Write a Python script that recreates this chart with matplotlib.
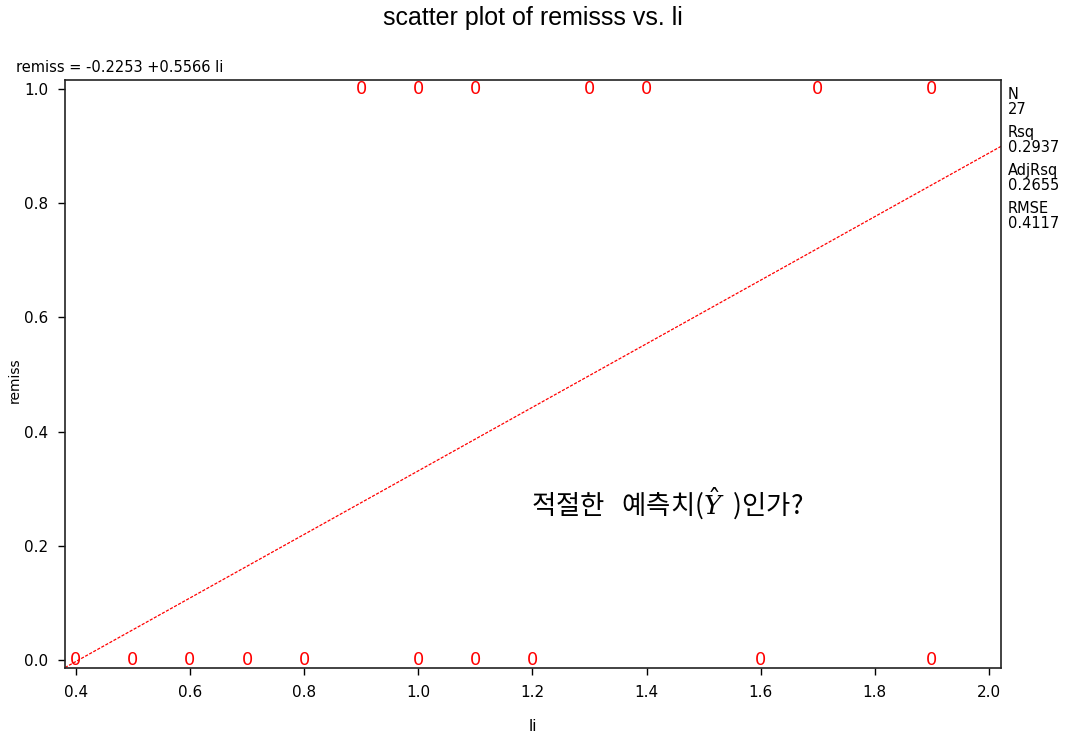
import numpy as np
import matplotlib.pyplot as plt

plt.rcParams['font.family'] = ['DejaVu Sans', 'Noto Sans CJK KR']

# observed (li, remiss) positions
li_one = [0.9, 1.0, 1.1, 1.3, 1.4, 1.7, 1.9]
li_zero = [0.4, 0.5, 0.6, 0.7, 0.8, 1.0, 1.1, 1.2, 1.6, 1.9]

# fitted regression
intercept = -0.2253
slope = 0.5566
stats_labels = ['N', 'Rsq', 'AdjRsq', 'RMSE']
stats_values = ['27', '0.2937', '0.2655', '0.4117']

x_ticks = [0.4, 0.6, 0.8, 1.0, 1.2, 1.4, 1.6, 1.8, 2.0]
y_ticks = [0.0, 0.2, 0.4, 0.6, 0.8, 1.0]

fig = plt.figure(figsize=(10.65, 7.37), dpi=100)
ax = fig.add_axes([65 / 1065, 1 - 668 / 737, 936 / 1065, 588 / 737])

xmin, xmax = 0.381, 2.021
ax.set_xlim(xmin, xmax)
ax.set_ylim(-0.014, 1.0158)

xs = np.array([xmin, xmax])
ax.plot(xs, intercept + slope * xs, color='red', linestyle=(0, (2.5, 1.2)), linewidth=0.9)

marker_font = dict(color='red', ha='center', va='center', fontsize=13,
                   family=['Liberation Sans Narrow', 'DejaVu Sans'])
for x in li_one:
    ax.text(x, 1.0, '0', **marker_font)
for x in li_zero:
    ax.text(x, 0.0, '0', **marker_font)

ax.set_xticks(x_ticks)
ax.set_xticklabels([f'{v:.1f}' for v in x_ticks], fontsize=11)
ax.set_yticks(y_ticks)
ax.set_yticklabels([f'{v:.1f}' for v in y_ticks], fontsize=11)
ax.tick_params(direction='out', length=5, width=1, pad=7)
for sp in ax.spines.values():
    sp.set_linewidth(1.2)
    sp.set_color('#222222')

ax.set_xlabel('li', fontsize=11, labelpad=14)
fig.text(15 / 1065, 1 - 380 / 737, 'remiss', rotation=90, ha='center', va='center',
         fontsize=10)

fig.text(0.5, 1 - 18 / 737, 'scatter plot of remisss vs. li', ha='center', va='center',
         fontsize=18, family='Liberation Sans')
fig.text(16 / 1065, 1 - 68 / 737, f'remiss = {intercept:.4f} +{slope:.4f} li',
         ha='left', va='center', fontsize=10.5)

yy = 87
for lab, val in zip(stats_labels, stats_values):
    fig.text(1008 / 1065, 1 - yy / 737, lab, ha='left', va='top', fontsize=10.5)
    fig.text(1008 / 1065, 1 - (yy + 15) / 737, val, ha='left', va='top', fontsize=10.5)
    yy += 38

ax.text(1.436, 0.275, '적절한   예측치(' + r'$\hat{Y}$' + '  )인가?', ha='center', va='center',
        fontsize=19, family=['Noto Sans CJK KR', 'DejaVu Sans'], math_fontfamily='dejavuserif')

fig.savefig('out.png', dpi=100)
